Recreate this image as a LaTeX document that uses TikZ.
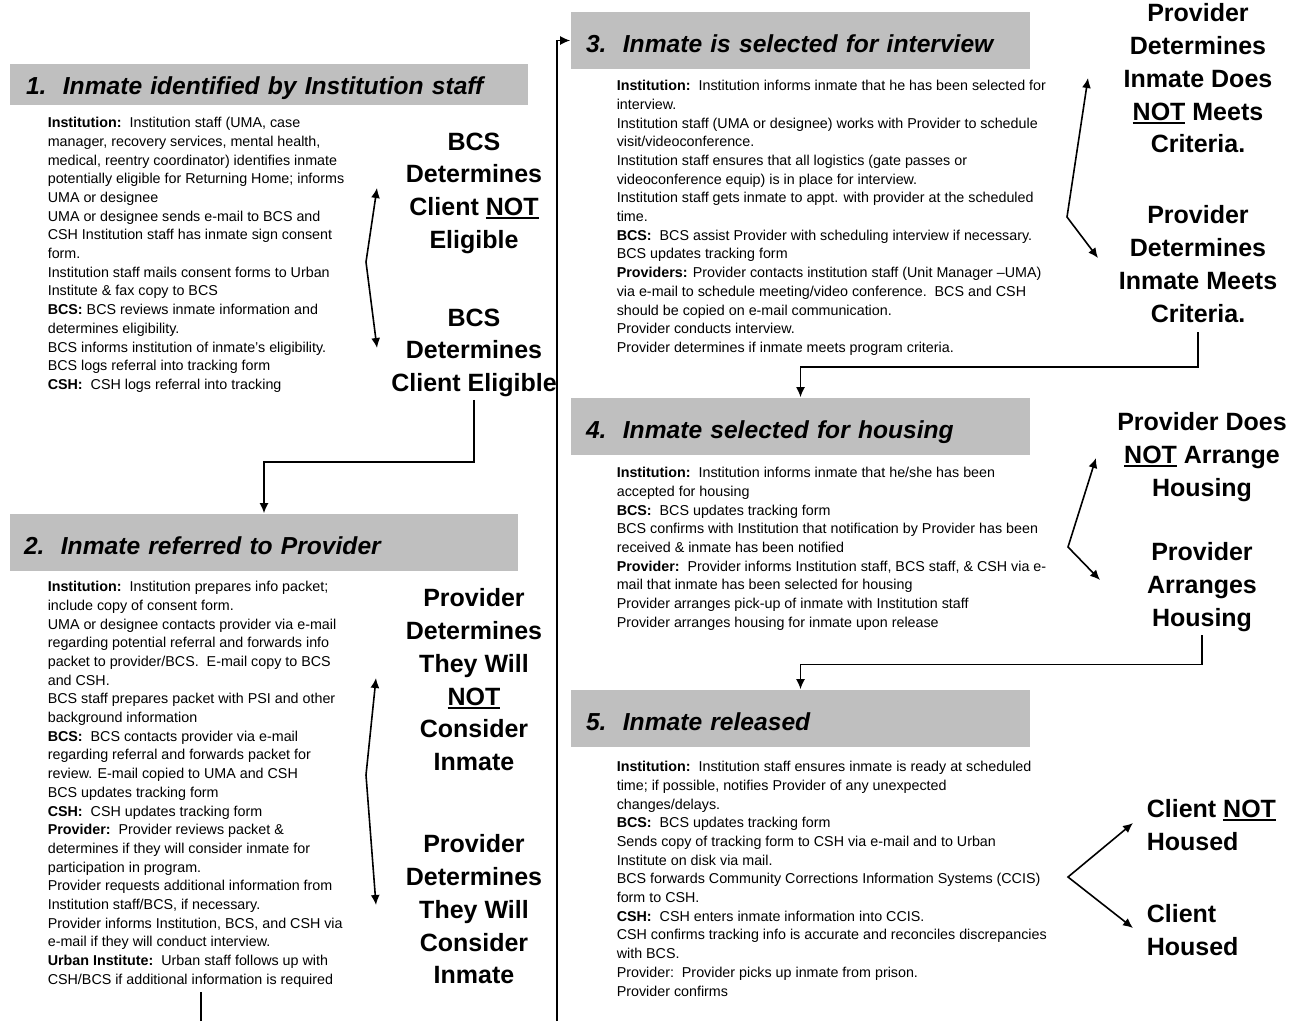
\documentclass[tikz,border=0pt]{standalone}
\usepackage{fontspec}
\setmainfont{Liberation Sans}
\usetikzlibrary{positioning,arrows.meta}
\newcommand{\undl}[1]{\setbox0\hbox{#1}\rlap{\rule[-3.5pt]{\wd0}{2pt}}\box0\relax}

\begin{document}
\begin{tikzpicture}[x=1pt, y=-1pt, line width=1.6pt, >={Latex[length=10pt,width=9pt]},
    stepbar/.style={fill=black!25, minimum height=57pt, inner xsep=15pt, inner ysep=0pt, align=left,
      text height=24pt, text depth=0pt, font=\fontsize{24.6}{30}\selectfont\bfseries\itshape},
    stepnotes/.style={anchor=north west, inner sep=0pt, align=left, font=\fontsize{14.3}{18.7}\selectfont},
    outcome/.style={anchor=north, inner sep=0pt, align=center, font=\fontsize{25}{32.7}\selectfont\bfseries}]
  \useasboundingbox (0,0) rectangle (1299,1021);

  % step 1
  \node[stepbar, minimum height=41pt, text height=20pt, text width=486pt, inner xsep=16pt] (S1) at (269,84.5)
    {1.~~Inmate identified by Institution staff};
  \node[stepnotes] (T1) at (47,116.5) {\textbf{Institution:}~~Institution staff (UMA, case\\
    manager, recovery services, mental health,\\
    medical, reentry coordinator) identifies inmate\\
    potentially eligible for Returning Home; informs\\
    UMA or designee\\
    UMA or designee sends e-mail to BCS and\\
    CSH Institution staff has inmate sign consent\\
    form.\\
    Institution staff mails consent forms to Urban\\
    Institute \& fax copy to BCS\\
    \textbf{BCS:} BCS reviews inmate information and\\
    determines eligibility.\\
    BCS informs institution of inmate's eligibility.\\
    BCS logs referral into tracking form\\
    \textbf{CSH:}~~CSH logs referral into tracking};
  \node[outcome] (N1) at (474,132) {BCS\\Determines\\Client \undl{NOT}\\Eligible};
  \node[outcome] (Y1) at (474,308) {BCS\\Determines\\Client Eligible};

  % step 2
  \node[stepbar, text width=480pt, inner xsep=14pt] (S2) at (264,542.5) {2.~~Inmate referred to Provider};
  \node[stepnotes] (T2) at (47,580.5) {\textbf{Institution:}~~Institution prepares info packet;\\
    include copy of consent form.\\
    UMA or designee contacts provider via e-mail\\
    regarding potential referral and forwards info\\
    packet to provider/BCS.~~E-mail copy to BCS\\
    and CSH.\\
    BCS staff prepares packet with PSI and other\\
    background information\\
    \textbf{BCS:}~~BCS contacts provider via e-mail\\
    regarding referral and forwards packet for\\
    review. E-mail copied to UMA and CSH\\
    BCS updates tracking form\\
    \textbf{CSH:}~~CSH updates tracking form\\
    \textbf{Provider:}~~Provider reviews packet \&\\
    determines if they will consider inmate for\\
    participation in program.\\
    Provider requests additional information from\\
    Institution staff/BCS, if necessary.\\
    Provider informs Institution, BCS, and CSH via\\
    e-mail if they will conduct interview.\\
    \textbf{Urban Institute:}~~Urban staff follows up with\\
    CSH/BCS if additional information is required};
  \node[outcome] (N2) at (474,588) {Provider\\Determines\\They Will\\\undl{NOT}\\Consider\\Inmate};
  \node[outcome] (Y2) at (474,834) {Provider\\Determines\\They Will\\Consider\\Inmate};

  % step 3
  \node[stepbar, text width=429pt] (S3) at (800.5,40.5) {3.~~Inmate is selected for interview};
  \node[stepnotes] (T3) at (616,79.5) {\textbf{Institution:}~~Institution informs inmate that he has been selected for\\
    interview.\\
    Institution staff (UMA or designee) works with Provider to schedule\\
    visit/videoconference.\\
    Institution staff ensures that all logistics (gate passes or\\
    videoconference equip) is in place for interview.\\
    Institution staff gets inmate to appt. with provider at the scheduled\\
    time.\\
    \textbf{BCS:}~~BCS assist Provider with scheduling interview if necessary.\\
    BCS updates tracking form\\
    \textbf{Providers:} Provider contacts institution staff (Unit Manager –UMA)\\
    via e-mail to schedule meeting/video conference.~~BCS and CSH\\
    should be copied on e-mail communication.\\
    Provider conducts interview.\\
    Provider determines if inmate meets program criteria.};
  \node[outcome] (N3) at (1198,3) {Provider\\Determines\\Inmate Does\\\undl{NOT} Meets\\Criteria.};
  \node[outcome] (Y3) at (1198,205) {Provider\\Determines\\Inmate Meets\\Criteria.};

  % step 4
  \node[stepbar, text width=429pt] (S4) at (800.5,426.5) {4.~~Inmate selected for housing};
  \node[stepnotes] (T4) at (616,466.5) {\textbf{Institution:}~~Institution informs inmate that he/she has been\\
    accepted for housing\\
    \textbf{BCS:}~~BCS updates tracking form\\
    BCS confirms with Institution that notification by Provider has been\\
    received \& inmate has been notified\\
    \textbf{Provider:}~~Provider informs Institution staff, BCS staff, \& CSH via e-\\
    mail that inmate has been selected for housing\\
    Provider arranges pick-up of inmate with Institution staff\\
    Provider arranges housing for inmate upon release};
  \node[outcome] (N4) at (1202,412) {Provider Does\\\undl{NOT} Arrange\\Housing};
  \node[outcome] (Y4) at (1202,542) {Provider\\Arranges\\Housing};

  % step 5
  \node[stepbar, text width=429pt] (S5) at (800.5,718.5) {5.~~Inmate released};
  \node[stepnotes] (T5) at (616,760.5) {\textbf{Institution:}~~Institution staff ensures inmate is ready at scheduled\\
    time; if possible, notifies Provider of any unexpected\\
    changes/delays.\\
    \textbf{BCS:}~~BCS updates tracking form\\
    Sends copy of tracking form to CSH via e-mail and to Urban\\
    Institute on disk via mail.\\
    BCS forwards Community Corrections Information Systems (CCIS)\\
    form to CSH.\\
    \textbf{CSH:}~~CSH enters inmate information into CCIS.\\
    CSH confirms tracking info is accurate and reconciles discrepancies\\
    with BCS.\\
    Provider:~~Provider picks up inmate from prison.\\
    Provider confirms};
  \node[outcome, anchor=north west, align=left] (N5) at (1146,799) {Client \undl{NOT}\\Housed};
  \node[outcome, anchor=north west, align=left] (Y5) at (1146,904) {Client\\Housed};

  % forks
  \coordinate (F1) at (366,262);  \coordinate (A1) at (377,188);  \coordinate (E1) at (377,348);
  \coordinate (F2) at (366,775);  \coordinate (A2) at (376,678);  \coordinate (E2) at (376,905);
  \coordinate (F3) at (1067,217); \coordinate (A3) at (1088,78);  \coordinate (E3) at (1098,258);
  \coordinate (F4) at (1068,547); \coordinate (A4) at (1096,458); \coordinate (E4) at (1100,580);
  \coordinate (F5) at (1068,877); \coordinate (A5) at (1133,823); \coordinate (E5) at (1133,928);
  \foreach \i in {1,...,5}
    \draw[<->] (A\i) -- (F\i) -- (E\i);

  % flow between steps
  \draw[->] ([yshift=-2pt]Y1.south) -- ++(0,62) -| (S2.north);
  \draw[->] ([yshift=-9pt]Y3.south) -- ++(0,35) -| (S4.north);
  \draw[->] ([yshift=-3pt]Y4.south) -- ++(0,29) -| (S5.north);
  \coordinate (C) at (201,1021);
  \draw (C) -- ++(0,-29);
  \coordinate (D) at (557,1021);
  \draw[->] (D) |- (S3.west);
\end{tikzpicture}
\end{document}
